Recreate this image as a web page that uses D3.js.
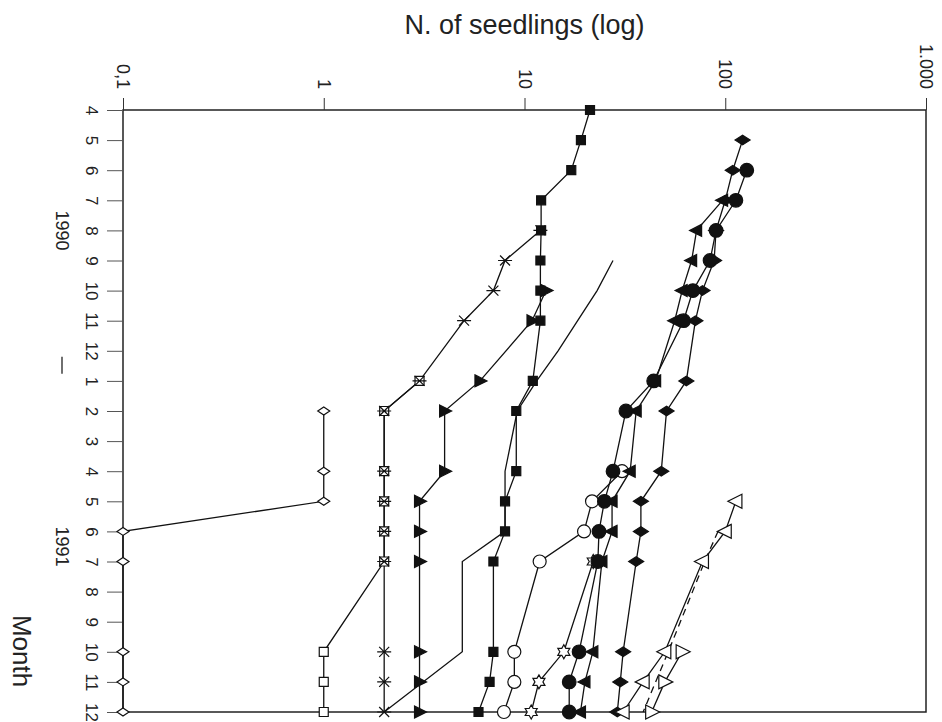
<!DOCTYPE html>
<html>
<head>
<meta charset="utf-8">
<script src="https://cdn.jsdelivr.net/npm/d3@7"></script>
<style>
  body { margin: 0; background: #fff; }
  svg { font-family: "Liberation Sans", Arial, sans-serif; }
</style>
</head>
<body>
<div class="chart"></div>
<script>
// Seedling counts, Apr 1990 - Dec 1991 (chart drawn rotated, months run down)

// month index 0 = Apr 1990 ... 20 = Dec 1991
var monthLabels = [4,5,6,7,8,9,10,11,12,1,2,3,4,5,6,7,8,9,10,11,12];
var valueTicks = [0.1, 1, 10, 100, 1000];
var valueTickLabels = ["0,1", "1", "10", "100", "1.000"];

// [month index, n. of seedlings]
var filledSquare = [[0,21.2],[1,19.1],[2,17.1],[3,12.1],[4,12.1],[5,12],[6,12],[7,12],[9,11],[10,9.1],[12,9.1],[13,8],[14,8],[15,7],[18,7],[19,6.7],[20,5.9]];
var asterisk = [[4,12],[5,8],[6,7],[7,5],[9,3],[10,2],[12,2],[13,2],[14,2],[15,2],[18,2],[19,2],[20,2]];
var openSquare = [[9,3],[10,2],[12,2],[13,2],[14,2],[15,2],[18,1],[19,1],[20,1]];
var openDiamond = [[10,1],[12,1],[13,1],[14,0.1],[15,0.1],[18,0.1],[19,0.1],[20,0.1]];
var filledRightTri = [[6,12.8],[7,10.9],[9,6],[10,4],[12,4],[13,3],[14,3],[15,3],[18,3],[19,3],[20,3]];
var plainLine = [[5,27.6],[6,23],[7,18.4],[8,14.7],[9,11.5],[10,9.2],[12,8],[13,8],[14,8],[15,4.9],[18,4.9],[20,2]];
var filledDiamond = [[1,122],[2,109],[3,100],[4,90],[5,88],[6,77],[7,71],[9,64],[10,51],[12,48],[13,38],[14,38],[15,36],[18,31],[19,30],[20,29]];
var filledCircle = [[2,128],[3,113],[4,90],[5,84],[6,69],[7,62],[9,44],[10,32],[12,27.6],[13,25],[14,23.5],[15,23.2],[18,18.7],[19,16.7],[20,16.7]];
var filledLeftTri = [[3,97],[4,72],[5,68],[6,61],[7,56],[9,45],[10,36],[12,33.6],[13,27.3],[14,27.3],[15,24.3],[18,21.9],[19,20],[20,19]];
var openCircle = [[12,30.6],[13,21.7],[14,19.8],[15,11.9],[18,8.9],[19,8.9],[20,7.9]];
var openStar = [[15,22],[18,15.7],[19,11.8],[20,10.8]];
var openLeftTri = [[13,113],[14,100],[15,77],[18,50],[19,39],[20,31]];
var openRightTri = [[18,61],[19,50],[20,43]];
var dashedLine = [[14,92],[15,79],[18,52],[19,45],[20,39]];

var series = [
  {data: plainLine,      marker: null},
  {data: dashedLine,     marker: null, dash: "7,5"},
  {data: openDiamond,    marker: "odia"},
  {data: openSquare,     marker: "osq"},
  {data: asterisk,       marker: "ast"},
  {data: filledRightTri, marker: "triR"},
  {data: filledSquare,   marker: "sq"},
  {data: openCircle,     marker: "ocirc"},
  {data: openStar,       marker: "star"},
  {data: filledDiamond,  marker: "dia"},
  {data: filledLeftTri,  marker: "triL"},
  {data: filledCircle,   marker: "circ"},
  {data: openRightTri,   marker: "otriR"},
  {data: openLeftTri,    marker: "otriL"}
];

var W = 942, H = 722;
var plot = {left: 123, right: 926, top: 110, bottom: 712};

var svg = d3.select(".chart").append("svg")
    .attr("width", W)
    .attr("height", H);

var x = d3.scaleLog().domain([0.1, 1000]).range([plot.left, plot.right]);
var y = d3.scaleLinear().domain([0, 20]).range([plot.top, plot.bottom]);

// frame
svg.append("rect")
    .attr("x", plot.left).attr("y", plot.top)
    .attr("width", plot.right - plot.left)
    .attr("height", plot.bottom - plot.top)
    .attr("fill", "none")
    .attr("stroke", "#222")
    .attr("stroke-width", 1.5);

// value axis (top), labels turned like the rest of the figure
var topAxis = svg.append("g")
    .attr("transform", "translate(0," + plot.top + ")")
    .call(d3.axisTop(x)
        .tickValues(valueTicks)
        .tickSize(12)
        .tickFormat(function(d, i) { return valueTickLabels[i]; }));
topAxis.select(".domain").remove();
topAxis.selectAll("line").attr("stroke", "#333");
topAxis.selectAll("text")
    .attr("y", null).attr("dy", "0.35em")
    .attr("x", -21)
    .attr("transform", "rotate(90)")
    .attr("text-anchor", "end")
    .attr("font-size", 18)
    .attr("fill", "#222");

// month axis (left)
var leftAxis = svg.append("g")
    .attr("transform", "translate(" + plot.left + ",0)")
    .call(d3.axisLeft(y)
        .tickValues(d3.range(0, 21))
        .tickSize(16)
        .tickFormat(function(d) { return monthLabels[d]; }));
leftAxis.select(".domain").remove();
leftAxis.selectAll("line").attr("stroke", "#555");
leftAxis.selectAll("text")
    .attr("x", 0).attr("dy", "0.35em")
    .attr("transform", "translate(-31,0) rotate(90)")
    .attr("text-anchor", "middle")
    .attr("font-size", 17)
    .attr("fill", "#222");

// years
svg.append("text")
    .attr("transform", "translate(62," + y(4) + ") rotate(90)")
    .attr("dy", "0.35em")
    .attr("text-anchor", "middle")
    .attr("font-size", 18)
    .attr("fill", "#222")
    .text("1990");
svg.append("text")
    .attr("transform", "translate(62," + y(14.5) + ") rotate(90)")
    .attr("dy", "0.35em")
    .attr("text-anchor", "middle")
    .attr("font-size", 18)
    .attr("fill", "#222")
    .text("1991");
svg.append("line")
    .attr("x1", 62).attr("x2", 62)
    .attr("y1", y(8.5) - 9).attr("y2", y(8.5) + 8)
    .attr("stroke", "#222")
    .attr("stroke-width", 1.3);

// axis titles
svg.append("text")
    .attr("x", (plot.left + plot.right) / 2)
    .attr("y", 34)
    .attr("text-anchor", "middle")
    .attr("font-size", 27)
    .attr("fill", "#222")
    .text("N. of seedlings (log)");
svg.append("text")
    .attr("transform", "translate(22," + 651 + ") rotate(90)")
    .attr("dy", "0.35em")
    .attr("text-anchor", "middle")
    .attr("font-size", 26)
    .attr("fill", "#222")
    .text("Month");

// lines
var line = d3.line()
    .x(function(d) { return x(d[1]); })
    .y(function(d) { return y(d[0]); });

svg.selectAll(".series-line")
    .data(series)
    .enter()
    .append("path")
    .attr("class", "series-line")
    .attr("d", function(s) { return line(s.data); })
    .attr("fill", "none")
    .attr("stroke", "#111")
    .attr("stroke-width", 1.3)
    .attr("stroke-dasharray", function(s) { return s.dash || null; });

// marker shapes
var shapes = {
  sq:    {d: "M-4.5,-4.5h9v9h-9Z", fill: "#111"},
  osq:   {d: "M-4.5,-4.5h9v9h-9Z", fill: "#fff"},
  dia:   {d: "M-7.5,0L0,-4.8L7.5,0L0,4.8Z", fill: "#111"},
  odia:  {d: "M-6,0L0,-4L6,0L0,4Z", fill: "#fff"},
  triR:  {d: "M-5,-6L7,0L-5,6Z", fill: "#111"},
  triL:  {d: "M5,-6L-7,0L5,6Z", fill: "#111"},
  otriR: {d: "M-6,-7L8,0L-6,7Z", fill: "#fff"},
  otriL: {d: "M6,-7L-8,0L6,7Z", fill: "#fff"},
  ast:   {d: "M-5,-5L5,5M-5,5L5,-5M-7,0L7,0", fill: "none"},
  star:  {d: "M0,-7L2,-3.5L6,-3.5L4,0L6,3.5L2,3.5L0,7L-2,3.5L-6,3.5L-4,0L-6,-3.5L-2,-3.5Z", fill: "#fff"}
};

series.forEach(function(s) {
  if (!s.marker) return;
  var g = svg.append("g");
  g.selectAll("g")
    .data(s.data)
    .enter()
    .append("g")
    .attr("transform", function(d) { return "translate(" + x(d[1]) + "," + y(d[0]) + ")"; })
    .each(function() {
      var m = d3.select(this);
      if (s.marker == "circ" || s.marker == "ocirc") {
        m.append("circle")
          .attr("r", s.marker == "circ" ? 6.8 : 6.5)
          .attr("fill", s.marker == "circ" ? "#111" : "#fff")
          .attr("stroke", "#111")
          .attr("stroke-width", 1.2);
      } else {
        m.append("path")
          .attr("d", shapes[s.marker].d)
          .attr("fill", shapes[s.marker].fill)
          .attr("stroke", "#111")
          .attr("stroke-width", 1.2);
      }
    });
});
</script>
</body>
</html>
